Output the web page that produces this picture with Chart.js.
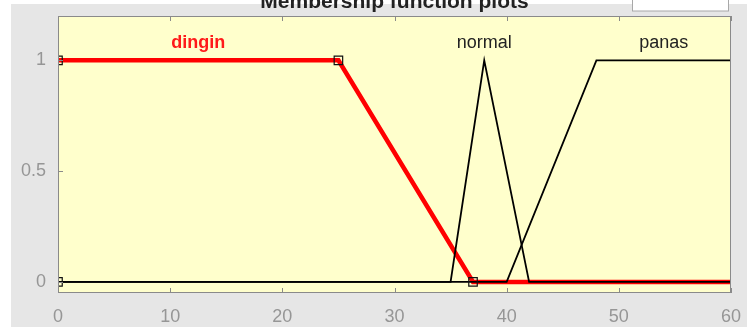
<!DOCTYPE html>
<html>
<head>
<meta charset="utf-8">
<script src="https://cdn.jsdelivr.net/npm/chart.js@4/dist/chart.umd.min.js"></script>
<style>
  html, body { margin: 0; padding: 0; background: #fff; }
  #wrap { width: 747px; height: 327px; }
</style>
</head>
<body>
<div id="wrap"><canvas id="mf"></canvas></div>
<script>
// membership functions (x, degree)
const dinginX = [0, 25, 37, 60];
const dinginY = [1, 1, 0, 0];
const normalX = [0, 35, 38, 42, 60];
const normalY = [0, 0, 1, 0, 0];
const panasX = [0, 40, 48, 60];
const panasY = [0, 0, 1, 1];

// vertices of the selected function (dingin)
const markX = [0, 0, 25, 37];
const markY = [0, 1, 1, 0];

const mfNames = ["dingin", "normal", "panas"];
const mfLabelX = [12.5, 38, 54];

const xTicks = [0, 10, 20, 30, 40, 50, 60];
const yTicks = [0, 0.5, 1];

const toPts = (xs, ys) => xs.map((x, i) => ({ x: x, y: ys[i] }));

const FONT = "'Liberation Sans', Arial, Helvetica, sans-serif";
const GRAY = "#969696";

const figure = {
    id: "figure",
    beforeDraw(chart) {
        const { ctx, chartArea: a } = chart;
        ctx.save();
        ctx.fillStyle = "#e6e6e6";
        ctx.fillRect(11, 4, chart.width - 11, chart.height - 4);
        // small white box top right
        ctx.fillStyle = "#fff";
        ctx.fillRect(632, 0, 97, 11);
        ctx.strokeStyle = "#a8a8a8";
        ctx.lineWidth = 1;
        ctx.strokeRect(632.5, -1, 96, 12);
        // title (cut off at the top)
        ctx.fillStyle = "#222";
        ctx.font = "bold 21px " + FONT;
        ctx.textAlign = "center";
        ctx.textBaseline = "alphabetic";
        ctx.fillText("Membership function plots", (a.left + a.right) / 2, 8);
        // axes background
        ctx.fillStyle = "#ffffcc";
        ctx.fillRect(a.left, a.top, a.right - a.left, a.bottom - a.top);
        ctx.restore();
    },
    afterDraw(chart) {
        const { ctx, chartArea: a, scales } = chart;
        ctx.save();
        ctx.strokeStyle = "#8a8a8a";
        ctx.lineWidth = 1;
        ctx.beginPath();
        xTicks.forEach(v => {
            const px = Math.round(scales.x.getPixelForValue(v)) + 0.5;
            ctx.moveTo(px, a.top); ctx.lineTo(px, a.top + 5);
            ctx.moveTo(px, a.bottom); ctx.lineTo(px, a.bottom - 5);
        });
        yTicks.forEach(v => {
            const py = Math.round(scales.y.getPixelForValue(v)) + 0.5;
            ctx.moveTo(a.left, py); ctx.lineTo(a.left + 5, py);
        });
        ctx.stroke();
        ctx.strokeRect(a.left + 0.5, a.top + 0.5, a.right - a.left - 1, a.bottom - a.top - 1);

        // function names
        ctx.textAlign = "center";
        ctx.textBaseline = "middle";
        const ly = scales.y.getPixelForValue(1.08);
        mfNames.forEach((n, i) => {
            const lx = scales.x.getPixelForValue(mfLabelX[i]);
            if (i === 0) {
                ctx.fillStyle = "#ff1a1a";
                ctx.font = "bold 18px " + FONT;
            } else {
                ctx.fillStyle = "#222";
                ctx.font = "18px " + FONT;
            }
            ctx.fillText(n, lx, ly);
        });
        ctx.restore();
    }
};

new Chart(document.getElementById("mf").getContext("2d"), {
    type: "line",
    data: {
        datasets: [
            {
                label: "marks",
                data: toPts(markX, markY),
                showLine: false,
                pointStyle: "rect",
                pointRadius: 6,
                pointBackgroundColor: "rgba(0,0,0,0)",
                pointBorderColor: "#111",
                pointBorderWidth: 1.2,
                clip: 0,
                order: 0
            },
            {
                label: "normal",
                data: toPts(normalX, normalY),
                borderColor: "#000",
                borderWidth: 1.8,
                pointRadius: 0,
                order: 1
            },
            {
                label: "panas",
                data: toPts(panasX, panasY),
                borderColor: "#000",
                borderWidth: 1.8,
                pointRadius: 0,
                order: 2
            },
            {
                label: "dingin",
                data: toPts(dinginX, dinginY),
                borderColor: "#ff0000",
                borderWidth: 4.5,
                pointRadius: 0,
                order: 3
            }
        ]
    },
    options: {
        responsive: true,
        maintainAspectRatio: false,
        animation: false,
        events: [],
        layout: { padding: { left: 0, top: 16, right: 16, bottom: 0 } },
        elements: { line: { tension: 0, borderJoinStyle: "miter" } },
        plugins: {
            legend: { display: false },
            title: { display: false },
            tooltip: { enabled: false }
        },
        scales: {
            x: {
                type: "linear",
                min: 0,
                max: 60,
                afterBuildTicks: s => { s.ticks = xTicks.map(v => ({ value: v })); },
                afterFit: s => {
                    s.height = 34;
                    s.paddingLeft = 0;
                    s.paddingRight = 0;
                },
                grid: { display: false, drawTicks: false },
                border: { display: false },
                ticks: { color: GRAY, font: { family: FONT, size: 18 }, padding: 13, maxRotation: 0 }
            },
            y: {
                type: "linear",
                min: -0.05,
                max: 1.2,
                afterBuildTicks: s => { s.ticks = yTicks.map(v => ({ value: v })); },
                afterFit: s => {
                    s.width = 58;
                    s.paddingTop = 0;
                    s.paddingBottom = 0;
                },
                grid: { display: false, drawTicks: false },
                border: { display: false },
                ticks: {
                    color: GRAY,
                    font: { family: FONT, size: 18 },
                    padding: 12,
                    callback: v => String(v)
                }
            }
        }
    },
    plugins: [figure]
});
</script>
</body>
</html>
